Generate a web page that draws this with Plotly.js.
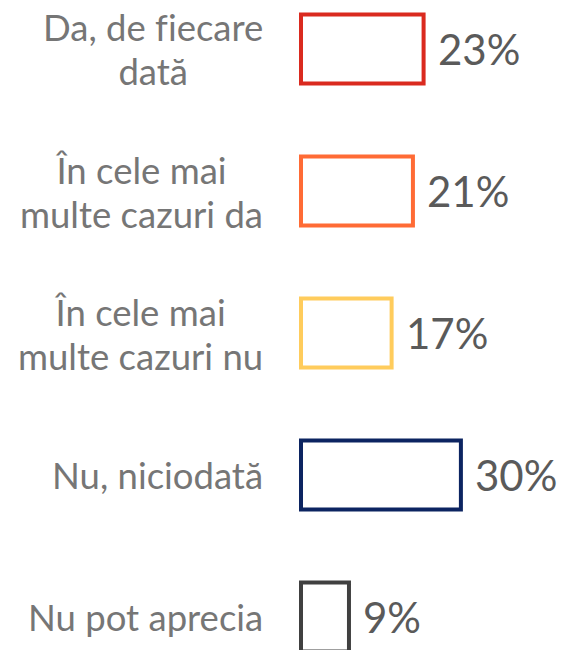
<!DOCTYPE html>
<html>
<head>
<meta charset="utf-8">
<script src="https://cdn.plot.ly/plotly-3.0.1.min.js"></script>
<style>
html,body{margin:0;padding:0;background:#fff;}
#chart{width:564px;height:650px;}
svg text{font-variant-ligatures:none;font-feature-settings:"liga" 0;}
</style>
</head>
<body>
<div id="chart"></div>
<script>
const categories = ["Da, de fiecare<br>dată", "În cele mai<br>multe cazuri da", "În cele mai<br>multe cazuri nu", "Nu, niciodată", "Nu pot aprecia"];
const values = [23, 21, 17, 30, 9];
const valueLabels = ["23%", "21%", "17%", "30%", "9%"];
const barColors = ["#DA2A1F", "#FF6B35", "#FFCC5C", "#0C2461", "#404040"];

const idx = categories.map((c, i) => i);
const k = 5.33;
const xmin = -11 / k;
const xmax = xmin + 274 / k;

const labelFont = 36.5;
const lineGap = 44;

const trace = {
  type: "bar",
  orientation: "h",
  y: idx,
  x: values,
  width: 0.486,
  marker: { color: "#ffffff", line: { color: barColors, width: 4 } },
  hoverinfo: "skip",
  cliponaxis: false
};

const annotations = [];
categories.forEach((c, i) => {
  annotations.push({
    xref: "paper", yref: "y", x: 0, y: i, xshift: -25,
    xanchor: "right", yanchor: "middle", align: "center",
    text: c, showarrow: false,
    font: { family: "Lato", size: labelFont, color: "#767676" }
  });
  annotations.push({
    xref: "x", yref: "y", x: values[i], y: i, xshift: 12,
    xanchor: "left", yanchor: "middle", align: "left",
    text: valueLabels[i], showarrow: false,
    font: { family: "Lato", size: 42, color: "#5a5a5a" }
  });
});

const layout = {
  width: 564, height: 650,
  margin: { l: 290, r: 0, t: 0, b: 0, pad: 0 },
  paper_bgcolor: "#ffffff", plot_bgcolor: "#ffffff",
  showlegend: false,
  xaxis: { range: [xmin, xmax], visible: false, fixedrange: true },
  yaxis: { range: [4.232, -0.345], visible: false, fixedrange: true },
  annotations: annotations
};

Plotly.newPlot("chart", [trace], layout, { displayModeBar: false, staticPlot: true }).then(function (gd) {
  // tighten line spacing of multi-line labels, keeping their vertical centre
  const g = lineGap / labelFont;
  gd.querySelectorAll(".annotation-text").forEach(function (t) {
    const lines = t.querySelectorAll("tspan.line");
    if (lines.length < 2) return;
    const n = lines.length;
    lines.forEach(function (ln, j) {
      const d = j * g + (n - 1) / 2 * (1.3 - g);
      ln.setAttribute("dy", d.toFixed(4) + "em");
    });
  });
});
</script>
</body>
</html>
